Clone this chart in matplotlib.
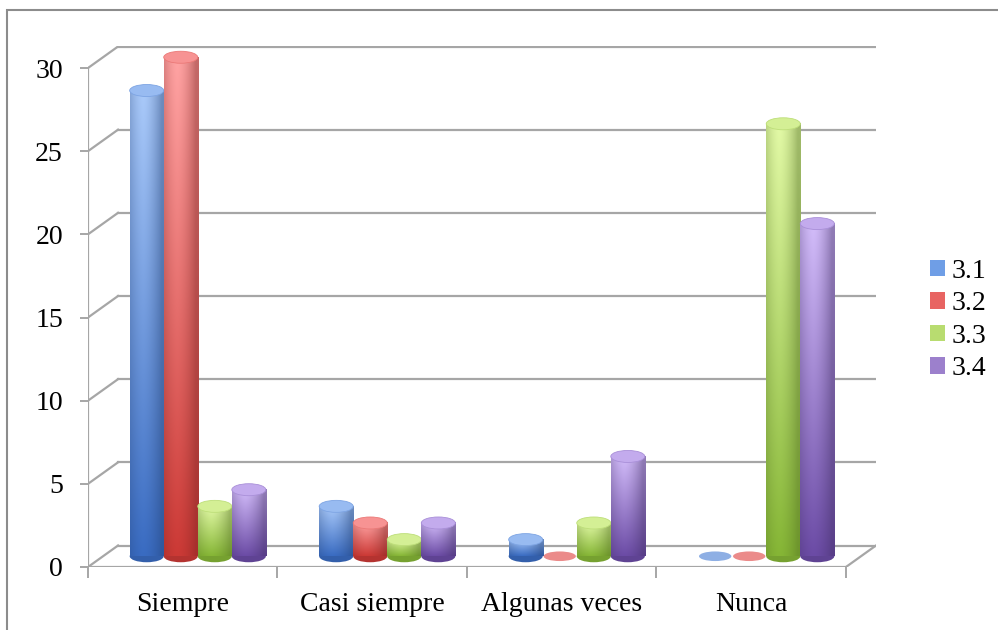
import numpy as np
import matplotlib
matplotlib.use('Agg')
import matplotlib.pyplot as plt
from matplotlib.patches import Ellipse, Rectangle, Patch

categories = ['Siempre', 'Casi siempre', 'Algunas veces', 'Nunca']
series = ['3.1', '3.2', '3.3', '3.4']
s31 = [28, 3, 1, 0]
s32 = [30, 2, 0, 0]
s33 = [3, 1, 2, 26]
s34 = [4, 2, 6, 20]
values = [s31, s32, s33, s34]

# (light top, dark bottom) per series
shades = [('#a9c9f9', '#3a6cc2'), ('#ffa3a3', '#cc3a36'),
          ('#e2f9a6', '#86b636'), ('#d2bcf9', '#6c4ca6')]
legend_cols = ['#6f9ee6', '#e86462', '#b8dc70', '#9c80cc']

W, H = 998, 630
fig = plt.figure(figsize=(W / 100, H / 100), dpi=100)
plt.rcParams['font.family'] = 'Liberation Serif'
fs = 20

# axes box in pixels: x 88..876, y 46..567
ax = fig.add_axes([88 / W, 1 - 567 / H, (876 - 88) / W, (567 - 46) / H])
px_x = (845 - 88) / 4.0          # pixels per category
px_y = (567 - 68) / 30.0         # pixels per unit
dx = 30 / px_x                   # depth offset in data units
dy = 21.5 / px_y
x0, x1 = -0.5, 3.5
ymax = 30 + 22 / px_y

grid_c = '#a6a6a6'
lw = 1.6
for yv in range(0, 31, 5):
    ax.plot([x0 + dx, x1 + dx], [yv + dy, yv + dy], color=grid_c, lw=lw, zorder=1)
    ax.plot([x0, x0 + dx], [yv, yv + dy], color=grid_c, lw=lw, zorder=1)
ax.plot([x0, x0], [0, 30], color=grid_c, lw=lw, zorder=1)
ax.plot([x0, x1], [0, 0], color=grid_c, lw=lw, zorder=1)
ax.plot([x1, x1 + dx], [0, dy], color=grid_c, lw=lw, zorder=1)

# cylinders
bw = 34 / px_x
eh = 12 / px_y
base = dy / 2
nrow, ncol = 64, 48
u = np.linspace(0, 1, ncol)
hmod = 1 - 0.55 * np.abs(u - 0.38) ** 1.6 * 2.2
hmod = np.clip(hmod, 0.55, 1.0)
z = 3
for ci in range(len(categories)):
    for si in range(len(series)):
        v = values[si][ci]
        light = np.array(matplotlib.colors.to_rgb(shades[si][0]))
        dark = np.array(matplotlib.colors.to_rgb(shades[si][1]))
        xc = ci + dx / 2 + (si - 1.5) * bw
        mid = (light + dark) / 2
        if v == 0:
            ax.add_patch(Ellipse((xc, base), bw * 0.95, eh * 0.8, facecolor=mid,
                                 edgecolor='none', alpha=0.8, zorder=z))
            z += 1
            continue
        t = np.linspace(0, 1, nrow)[:, None, None]
        col = dark + (light - dark) * t
        col = col * hmod[None, :, None] + (1 - hmod[None, :, None]) * dark * 0.6
        col = np.clip(col, 0, 1)
        ax.add_patch(Ellipse((xc, base), bw, eh, facecolor=col[0, ncol // 2] * 0.9,
                             edgecolor='none', zorder=z))
        ax.imshow(col, extent=[xc - bw / 2, xc + bw / 2, base, base + v],
                  origin='lower', aspect='auto', interpolation='bilinear', zorder=z + 1)
        topc = np.clip(light * 0.85 + dark * 0.15, 0, 1)
        ax.add_patch(Ellipse((xc, base + v), bw, eh, facecolor=topc,
                             edgecolor=np.clip(light * 0.6 + dark * 0.4, 0, 1),
                             lw=0.6, zorder=z + 2))
        z += 3

ax.set_xlim(x0, x1 + dx)
ax.set_ylim(0, ymax)
for sp in ax.spines.values():
    sp.set_visible(False)

ax.set_yticks(range(0, 31, 5))
ax.set_yticklabels([str(t) for t in range(0, 31, 5)], fontsize=fs)
ax.tick_params(axis='y', direction='out', length=6, width=1.4, color=grid_c, pad=12)
ax.set_xticks(range(len(categories)))
ax.set_xticklabels(categories, fontsize=fs)
ax.tick_params(axis='x', length=0, pad=18)
ax.set_xticks([-0.5, 0.5, 1.5, 2.5, 3.5], minor=True)
ax.tick_params(axis='x', which='minor', direction='out', length=8, width=1.4, color=grid_c)

handles = [Patch(facecolor=c, edgecolor='none') for c in legend_cols]
fig.legend(handles, series, loc='center left', bbox_to_anchor=(905 / W, 1 - 320 / H),
           frameon=False, fontsize=fs, handlelength=0.55, handleheight=0.55,
           handletextpad=0.22, labelspacing=0.27)

fig.add_artist(Rectangle((7 / W, -0.1), 1.2, 1 - 10 / H + 0.1, transform=fig.transFigure,
                         fill=False, edgecolor='#8c8c8c', lw=1.5))

fig.savefig('out.png', dpi=100)
